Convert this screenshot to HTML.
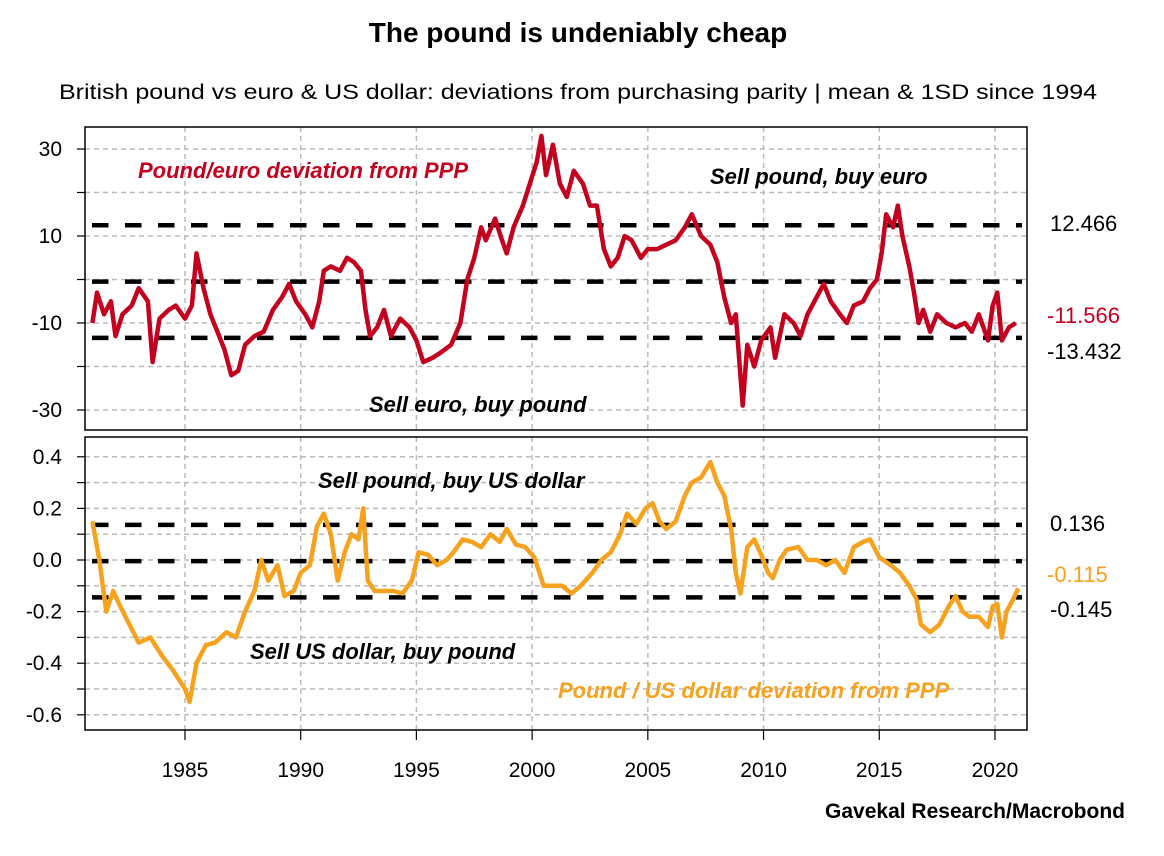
<!DOCTYPE html>
<html><head><meta charset="utf-8"><style>
body{margin:0;background:#fff}
svg{display:block}
text{font-family:"Liberation Sans Narrow","Liberation Sans",sans-serif}
</style></head><body>
<svg id="c" width="1164" height="856" xmlns="http://www.w3.org/2000/svg">
<text x="578" y="42" text-anchor="middle" font-size="28" font-weight="bold">The pound is undeniably cheap</text>
<text x="578" y="99" text-anchor="middle" font-size="21" textLength="1038" lengthAdjust="spacingAndGlyphs">British pound vs euro &amp; US dollar: deviations from purchasing parity | mean &amp; 1SD since 1994</text>
<text x="1125" y="818" text-anchor="end" font-size="21" font-weight="bold">Gavekal Research/Macrobond</text>
</svg>
<script>
const eurYears=[1981.0,1981.2,1981.5,1981.8,1982.0,1982.3,1982.7,1983.0,1983.4,1983.6,1983.9,1984.3,1984.6,1985.0,1985.3,1985.5,1985.8,1986.1,1986.4,1986.7,1987.0,1987.3,1987.6,1988.0,1988.4,1988.8,1989.2,1989.5,1989.8,1990.2,1990.5,1990.8,1991.0,1991.3,1991.7,1992.0,1992.3,1992.6,1992.8,1993.0,1993.3,1993.6,1993.9,1994.3,1994.7,1995.0,1995.3,1995.7,1996.0,1996.5,1996.9,1997.2,1997.5,1997.8,1998.0,1998.4,1998.7,1998.9,1999.2,1999.6,1999.9,2000.2,2000.4,2000.6,2000.9,2001.2,2001.5,2001.8,2002.2,2002.5,2002.8,2003.1,2003.4,2003.7,2004.0,2004.3,2004.7,2005.0,2005.4,2005.8,2006.2,2006.6,2006.9,2007.3,2007.7,2008.0,2008.3,2008.6,2008.8,2009.0,2009.1,2009.3,2009.6,2009.9,2010.3,2010.5,2010.9,2011.3,2011.6,2011.9,2012.3,2012.6,2012.9,2013.3,2013.6,2013.9,2014.3,2014.6,2014.9,2015.1,2015.3,2015.6,2015.8,2016.0,2016.3,2016.5,2016.7,2016.9,2017.2,2017.5,2017.9,2018.3,2018.7,2019.0,2019.3,2019.7,2019.9,2020.1,2020.3,2020.6,2020.9];
const eurValues=[-10,-3,-8,-5,-13,-8,-6,-2,-5,-19,-9,-7,-6,-9,-6,6,-2,-8,-12,-16,-22,-21,-15,-13,-12,-7,-4,-1,-5,-8,-11,-5,2,3,2,5,4,2,-7,-13,-11,-7,-13,-9,-11,-14,-19,-18,-17,-15,-10,0,5,12,9,14,9,6,12,17,22,27,33,24,31,22,19,25,22,17,17,7,3,5,10,9,5,7,7,8,9,12,15,10,8,4,-4,-10,-8,-22,-29,-15,-20,-14,-11,-18,-8,-10,-13,-8,-4,-1,-5,-8,-10,-6,-5,-2,0,6,15,12,17,10,3,-3,-10,-7,-12,-8,-10,-11,-10,-12,-8,-14,-6,-3,-14,-11,-10];
const usdYears=[1981.0,1981.3,1981.6,1981.9,1982.2,1982.6,1983.0,1983.5,1984.0,1984.5,1985.0,1985.2,1985.5,1985.9,1986.3,1986.8,1987.2,1987.6,1988.0,1988.3,1988.6,1989.0,1989.3,1989.7,1990.0,1990.4,1990.7,1991.0,1991.3,1991.6,1991.9,1992.2,1992.5,1992.7,1992.9,1993.2,1993.6,1994.0,1994.4,1994.8,1995.1,1995.5,1995.9,1996.3,1996.6,1997.0,1997.4,1997.8,1998.2,1998.6,1998.9,1999.3,1999.7,2000.1,2000.5,2000.9,2001.3,2001.7,2002.1,2002.6,2003.0,2003.4,2003.8,2004.1,2004.5,2004.9,2005.2,2005.5,2005.8,2006.2,2006.6,2006.9,2007.3,2007.7,2008.0,2008.3,2008.6,2008.8,2009.0,2009.3,2009.6,2009.9,2010.2,2010.4,2010.7,2011.0,2011.5,2011.9,2012.3,2012.7,2013.1,2013.5,2013.9,2014.3,2014.6,2015.0,2015.5,2015.9,2016.3,2016.6,2016.8,2017.2,2017.6,2018.0,2018.3,2018.6,2018.9,2019.3,2019.7,2019.9,2020.1,2020.3,2020.5,2020.8,2021.0];
const usdValues=[0.15,0.0,-0.2,-0.12,-0.18,-0.25,-0.32,-0.3,-0.37,-0.43,-0.5,-0.55,-0.4,-0.33,-0.32,-0.28,-0.3,-0.2,-0.12,0.0,-0.08,-0.02,-0.14,-0.12,-0.05,-0.02,0.13,0.18,0.1,-0.08,0.03,0.1,0.08,0.2,-0.08,-0.12,-0.12,-0.12,-0.13,-0.08,0.03,0.02,-0.02,0.0,0.03,0.08,0.07,0.05,0.1,0.07,0.12,0.06,0.05,0.01,-0.1,-0.1,-0.1,-0.13,-0.1,-0.05,0.0,0.03,0.1,0.18,0.14,0.2,0.22,0.15,0.12,0.15,0.25,0.3,0.32,0.38,0.3,0.25,0.12,-0.05,-0.13,0.05,0.08,0.02,-0.05,-0.07,0.0,0.04,0.05,0.0,0.0,-0.02,0.0,-0.05,0.05,0.07,0.08,0.01,-0.02,-0.05,-0.1,-0.15,-0.25,-0.28,-0.25,-0.18,-0.14,-0.2,-0.22,-0.22,-0.26,-0.18,-0.17,-0.3,-0.2,-0.15,-0.11];
const eurTicks=[30,10,-10,-30];
const eurGrid=[30,20,10,0,-10,-20,-30];
const usdTicks=[0.4,0.2,0.0,-0.2,-0.4,-0.6];
const usdGrid=[0.4,0.3,0.2,0.1,0.0,-0.1,-0.2,-0.3,-0.4,-0.5,-0.6];
const yearTicks=[1985,1990,1995,2000,2005,2010,2015,2020];
const eurBands=[12.466,-0.483,-13.432];
const usdBands=[0.136,-0.0045,-0.145];
const eurLast=-11.566, usdLast=-0.115;

const NS="http://www.w3.org/2000/svg", svg=document.getElementById('c');
const L=85,R=1027;
const x=y=>L+(y-1980.68)*(810/35);
const yE=v=>279.5-v*4.35;
const yU=v=>560-v*258;
function el(t,a,p){const e=document.createElementNS(NS,t);for(const k in a)e.setAttribute(k,a[k]);(p||svg).appendChild(e);return e;}
function panel(top,bot,grid,ticks,fy,fmt,name){
  const g=el('g',{});
  
  
  grid.forEach(v=>{const l=el('line',{x1:L,x2:R,y1:fy(v),y2:fy(v),stroke:'#bbb','stroke-width':1.5,'stroke-dasharray':'5 4'},g);
    
    
    const t=el('line',{x1:L-8,x2:L,y1:fy(v),y2:fy(v),stroke:'#000','stroke-width':1.2},g);
    
    });
  yearTicks.forEach(yr=>{const l=el('line',{x1:x(yr),x2:x(yr),y1:top,y2:bot,stroke:'#bbb','stroke-width':1.5,'stroke-dasharray':'5 4'},g);
    
    });
  ticks.forEach(v=>{const t=el('text',{x:62,y:fy(v)+7,'text-anchor':'end','font-size':21},g);t.textContent=fmt(v);
    
    });
  return g;
}
panel(127,430,eurGrid,eurTicks,yE,v=>String(v),'euro');
panel(437,730,usdGrid,usdTicks,yU,v=>v.toFixed(1),'usd');
yearTicks.forEach(yr=>{const t=el('line',{x1:x(yr),x2:x(yr),y1:730,y2:740,stroke:'#000','stroke-width':1.2});
  
  
  const l=el('text',{x:x(yr),y:777,'text-anchor':'middle','font-size':21});l.textContent=yr;
  
  });
function bands(vals,fy,name){vals.forEach(v=>{const l=el('line',{x1:92,x2:R-5,y1:fy(v),y2:fy(v),stroke:'#000','stroke-width':4.5,'stroke-dasharray':'16.5 16.5'});
  
  });}
bands(eurBands,yE,'euro');bands(usdBands,yU,'usd');
function series(xs,vs,fy,col,name){const d=xs.map((a,i)=>(i?'L':'M')+x(a).toFixed(1)+' '+fy(vs[i]).toFixed(1)).join('');
  const p=el('path',{d:d,fill:'none',stroke:col,'stroke-width':4.5,'stroke-linejoin':'round'});
  
  }
series(eurYears,eurValues,yE,'#c4001f','pound-euro-line');
series(usdYears,usdValues,yU,'#f7a21e','pound-usd-line');
[[127,430],[437,730]].forEach(([a,b])=>{const r=el('rect',{x:L,y:a,width:R-L,height:b-a,fill:'none',stroke:'#000','stroke-width':1.5});
  
  });
function lab(tx,px,py,col,name,opt){const t=el('text',Object.assign({x:px,y:py,fill:col,'font-size':22},opt||{}));t.textContent=tx;
  
  }
const it={'font-style':'italic','font-weight':'bold'};
lab('Pound/euro deviation from PPP',138,178,'#c4001f','euro-series-label',it);
lab('Sell pound, buy euro',710,184,'#000','sell-pound-euro-label',it);
lab('Sell euro, buy pound',369,412,'#000','sell-euro-label',it);
lab('Sell pound, buy US dollar',318,488,'#000','sell-pound-usd-label',it);
lab('Sell US dollar, buy pound',250,659,'#000','sell-usd-label',it);
lab('Pound / US dollar deviation from PPP',558,698,'#f7a21e','usd-series-label',it);
lab('12.466',1050,231,'#000','upper-band-value');
lab(String(eurLast),1047,323,'#c4001f','euro-last-value');
lab('-13.432',1047,359,'#000','lower-band-value');
lab('0.136',1050,531,'#000','usd-upper-band-value');
lab(usdLast.toFixed(3),1047,582,'#f7a21e','usd-last-value');
lab('-0.145',1050,617,'#000','usd-lower-band-value');
</script>
</body></html>
